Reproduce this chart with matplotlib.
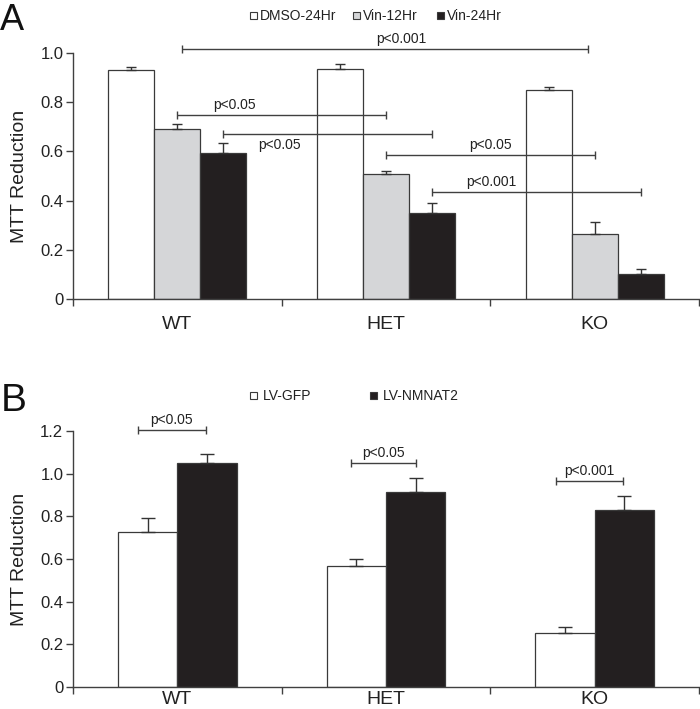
import matplotlib
matplotlib.use('Agg')
import matplotlib.pyplot as plt
from matplotlib.patches import Rectangle
from matplotlib.ticker import FuncFormatter, FixedLocator

plt.rcParams['font.family'] = ['Liberation Sans', 'DejaVu Sans']

# ---------------- data ----------------
genotypes = ['WT', 'HET', 'KO']

a_series = ['DMSO-24Hr', 'Vin-12Hr', 'Vin-24Hr']
a_dmso = [0.93, 0.935, 0.85]
a_dmso_err = [0.012, 0.02, 0.012]
a_vin12 = [0.69, 0.51, 0.265]
a_vin12_err = [0.02, 0.012, 0.05]
a_vin24 = [0.595, 0.35, 0.10]
a_vin24_err = [0.04, 0.04, 0.02]

a_sig_x1 = [0.02, 0.0, 0.22, 1.0, 1.22]
a_sig_x2 = [1.97, 1.0, 1.22, 2.0, 2.22]
a_sig_y = [1.015, 0.748, 0.669, 0.585, 0.434]
a_sig_label = ['p<0.001', 'p<0.05', 'p<0.05', 'p<0.05', 'p<0.001']
a_sig_textx = [1.073, 0.275, 0.49, 1.50, 1.505]
a_sig_side = [1, 1, -1, 1, 1]

b_series = ['LV-GFP', 'LV-NMNAT2']
b_gfp = [0.725, 0.565, 0.253]
b_gfp_err = [0.068, 0.036, 0.029]
b_nmnat2 = [1.051, 0.915, 0.829]
b_nmnat2_err = [0.04, 0.067, 0.066]

b_sig_x1 = [-0.19, 0.83, 1.817]
b_sig_x2 = [0.135, 1.144, 2.135]
b_sig_y = [1.204, 1.05, 0.965]
b_sig_label = ['p<0.05', 'p<0.05', 'p<0.001']

a_yticks = [0, 0.2, 0.4, 0.6, 0.8, 1.0]
b_yticks = [0, 0.2, 0.4, 0.6, 0.8, 1.0, 1.2]

# ---------------- style ----------------
W, H = 700, 709
WHITE = '#ffffff'
GREY = '#d5d6d8'
BLACK = '#231f20'
EDGE = '#3a3a3a'
SPINE = '#404040'

fig = plt.figure(figsize=(W / 100, H / 100), dpi=100)


def fx(px):
    return px / W


def fy(py):
    return 1 - py / H


def yfmt(v, pos):
    return '0' if abs(v) < 1e-9 else f'{v:.1f}'


def style_axis(ax, yticks, ylim, xpad):
    ax.set_xlim(-0.5, 2.5)
    ax.set_ylim(*ylim)
    for s in ['top', 'right']:
        ax.spines[s].set_visible(False)
    for s in ['left', 'bottom']:
        ax.spines[s].set_color(SPINE)
        ax.spines[s].set_linewidth(1.0)
    ax.set_yticks(yticks)
    ax.yaxis.set_major_formatter(FuncFormatter(yfmt))
    ax.tick_params(axis='y', direction='out', length=5, width=1.0,
                   color=SPINE, labelsize=12, pad=2, labelcolor='#222222')
    ax.set_xticks(range(len(genotypes)))
    ax.set_xticklabels(genotypes)
    ax.xaxis.set_minor_locator(FixedLocator([-0.5, 0.5, 1.5, 2.5]))
    ax.tick_params(axis='x', which='major', length=0, labelsize=14,
                   pad=xpad, labelcolor='#222222')
    ax.tick_params(axis='x', which='minor', length=5, width=1.0,
                   color=SPINE, direction='out')
    ax.set_ylabel('MTT Reduction', fontsize=14, color='#222222')
    ax.yaxis.set_label_coords(-0.072, 0.5)


def sig(ax, x1, x2, y, capsize=4):
    ax.plot([x1, x2], [y, y], color=SPINE, lw=1.0, clip_on=False,
            solid_capstyle='butt')
    ax.plot([x1, x2], [y, y], ls='none', marker='|', ms=capsize * 1.6,
            mew=1.0, color=SPINE, clip_on=False)


# ---------------- panel A ----------------
axA = fig.add_axes([fx(73), fy(299), fx(699) - fx(73), (299 - 53) / H])
wA = 0.22
xs = list(range(len(genotypes)))
series_a = [(a_dmso, a_dmso_err, WHITE), (a_vin12, a_vin12_err, GREY),
            (a_vin24, a_vin24_err, BLACK)]
for i, (vals, errs, col) in enumerate(series_a):
    pos = [x + (i - 1) * wA for x in xs]
    axA.bar(pos, vals, width=wA, color=col, edgecolor=EDGE, linewidth=0.9,
            zorder=2)
    axA.errorbar(pos, vals, yerr=[[0] * len(errs), errs], fmt='none',
                 ecolor='#333333', elinewidth=1.0, capsize=3.5, capthick=1.0,
                 zorder=3)
style_axis(axA, a_yticks, (0, 1.0), 12)

for x1, x2, y, lab, tx, side in zip(a_sig_x1, a_sig_x2, a_sig_y, a_sig_label,
                                     a_sig_textx, a_sig_side):
    sig(axA, x1, x2, y)
    axA.annotate(lab, (tx, y), xytext=(0, 7.5 * side),
                 textcoords='offset points', ha='center', va='center',
                 fontsize=10, color='#222222', annotation_clip=False)

# legend A
legA_sq = [250, 353, 437]
for px, name, col in zip(legA_sq, a_series, [WHITE, GREY, BLACK]):
    fig.patches.append(Rectangle((fx(px), fy(19)), 7 / W, 7 / H,
                                 transform=fig.transFigure, facecolor=col,
                                 edgecolor=EDGE, linewidth=0.8))
    fig.text(fx(px + 10), fy(15.5), name, fontsize=10, ha='left',
             va='center', color='#222222')

fig.text(fx(0), fy(30), 'A', fontsize=26, ha='left', va='baseline',
         color='#111111')

# ---------------- panel B ----------------
axB = fig.add_axes([fx(73), fy(687), fx(699) - fx(73), (687 - 431) / H])
wB = 0.285
series_b = [(b_gfp, b_gfp_err, WHITE), (b_nmnat2, b_nmnat2_err, BLACK)]
for i, (vals, errs, col) in enumerate(series_b):
    pos = [x + (i - 0.5) * wB for x in xs]
    axB.bar(pos, vals, width=wB, color=col, edgecolor=EDGE, linewidth=0.9,
            zorder=2)
    axB.errorbar(pos, vals, yerr=[[0] * len(errs), errs], fmt='none',
                 ecolor='#333333', elinewidth=1.0, capsize=5, capthick=1.0,
                 zorder=3)
style_axis(axB, b_yticks, (0, 1.2), 3)

for x1, x2, y, lab in zip(b_sig_x1, b_sig_x2, b_sig_y, b_sig_label):
    sig(axB, x1, x2, y)
    axB.annotate(lab, ((x1 + x2) / 2, y), xytext=(0, 7.5),
                 textcoords='offset points', ha='center', va='center',
                 fontsize=10, color='#222222', annotation_clip=False)

legB_sq = [250, 370]
for px, name, col in zip(legB_sq, b_series, [WHITE, BLACK]):
    fig.patches.append(Rectangle((fx(px), fy(399)), 7 / W, 7 / H,
                                 transform=fig.transFigure, facecolor=col,
                                 edgecolor=EDGE, linewidth=0.8))
    fig.text(fx(px + 13), fy(395.5), name, fontsize=10, ha='left',
             va='center', color='#222222')

fig.text(fx(1), fy(411), 'B', fontsize=28, ha='left', va='baseline',
         color='#111111')

fig.savefig('out.png', dpi=100)
